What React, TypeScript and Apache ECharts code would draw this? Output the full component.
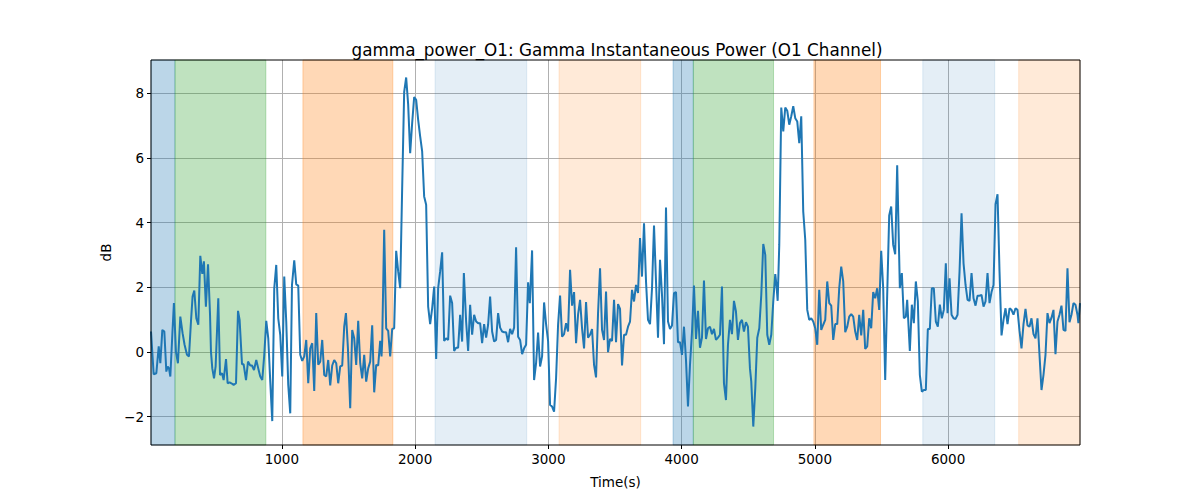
import React, { useEffect, useRef } from "react";
import * as echarts from "echarts";

const titleText = "gamma_power_O1: Gamma Instantaneous Power (O1 Channel)";
const xName = "Time(s)";
const yName = "dB";
const xTicks = [1000, 2000, 3000, 4000, 5000, 6000];
const yTicks = [-2, 0, 2, 4, 6, 8];
const xRange = [18, 6990];
const yRange = [-2.88, 9.03];

const times = [
  18, 38, 58, 76, 88, 103, 118, 133, 143, 153, 163, 178, 190, 205, 220, 238, 255, 270, 288, 303,
  318, 330, 343, 358, 373, 388, 403, 415, 430, 446, 461, 468, 478, 491, 503, 523, 536, 551, 563, 581,
  593, 608, 621, 638, 656, 671, 683, 701, 713, 731, 746, 763, 776, 791, 808, 823, 838, 853, 868, 883,
  898, 913, 928, 943, 958, 973, 988, 1003, 1018, 1033, 1048, 1063, 1076, 1093, 1108, 1123, 1138, 1153, 1168, 1183,
  1198, 1213, 1228, 1243, 1258, 1273, 1288, 1303, 1318, 1333, 1348, 1363, 1378, 1393, 1408, 1423, 1438, 1453, 1468, 1481,
  1496, 1513, 1528, 1543, 1558, 1573, 1588, 1603, 1618, 1633, 1648, 1663, 1678, 1693, 1708, 1723, 1738, 1748, 1753, 1768,
  1783, 1798, 1813, 1828, 1843, 1858, 1873, 1888, 1903, 1918, 1933, 1948, 1963, 1978, 1993, 2008, 2023, 2038, 2053, 2068,
  2083, 2098, 2113, 2128, 2143, 2158, 2173, 2188, 2203, 2218, 2233, 2248, 2263, 2278, 2293, 2308, 2323, 2338, 2353, 2366,
  2383, 2398, 2413, 2428, 2443, 2458, 2473, 2488, 2503, 2518, 2533, 2548, 2563, 2578, 2593, 2608, 2623, 2638, 2653, 2668,
  2683, 2698, 2713, 2728, 2743, 2758, 2773, 2788, 2803, 2818, 2833, 2848, 2861, 2878, 2893, 2908, 2923, 2938, 2953, 2968,
  2983, 2998, 3013, 3028, 3043, 3058, 3073, 3088, 3103, 3118, 3133, 3148, 3163, 3178, 3193, 3208, 3223, 3238, 3253, 3268,
  3283, 3298, 3313, 3328, 3343, 3358, 3373, 3388, 3403, 3418, 3433, 3448, 3463, 3478, 3493, 3508, 3523, 3538, 3553, 3568,
  3583, 3598, 3613, 3628, 3643, 3658, 3673, 3688, 3703, 3718, 3733, 3748, 3763, 3778, 3793, 3808, 3823, 3838, 3853, 3868,
  3883, 3898, 3913, 3928, 3943, 3958, 3973, 3988, 4003, 4018, 4033, 4048, 4063, 4078, 4093, 4108, 4123, 4138, 4153, 4168,
  4183, 4198, 4213, 4228, 4243, 4258, 4273, 4288, 4303, 4318, 4333, 4348, 4363, 4378, 4393, 4408, 4423, 4438, 4453, 4468,
  4483, 4498, 4513, 4523, 4538, 4553, 4568, 4583, 4598, 4613, 4628, 4643, 4658, 4673, 4688, 4703, 4713, 4721, 4733, 4748,
  4763, 4778, 4793, 4808, 4823, 4838, 4853, 4868, 4883, 4898, 4913, 4928, 4943, 4958, 4973, 4988, 5003, 5018, 5033, 5048,
  5063, 5078, 5093, 5108, 5123, 5138, 5153, 5168, 5183, 5198, 5213, 5228, 5243, 5258, 5273, 5288, 5303, 5318, 5333, 5348,
  5363, 5378, 5393, 5408, 5423, 5438, 5453, 5468, 5483, 5498, 5513, 5528, 5543, 5558, 5573, 5588, 5603, 5618, 5638, 5653,
  5668, 5683, 5693, 5713, 5728, 5743, 5758, 5773, 5788, 5803, 5818, 5833, 5848, 5863, 5878, 5893, 5908, 5923, 5938, 5953,
  5968, 5983, 5996, 6011, 6026, 6041, 6056, 6071, 6086, 6101, 6116, 6131, 6146, 6161, 6176, 6191, 6206, 6221, 6236, 6251,
  6266, 6281, 6296, 6311, 6326, 6341, 6356, 6371, 6386, 6401, 6416, 6431, 6446, 6461, 6476, 6491, 6506, 6521, 6536, 6551,
  6566, 6581, 6596, 6611, 6626, 6641, 6656, 6671, 6686, 6701, 6716, 6731, 6746, 6761, 6776, 6791, 6806, 6821, 6836, 6851,
  6866, 6881, 6896, 6911, 6926, 6941, 6956, 6971, 6978, 6990,
];

const values = [
  0.63, -0.69, -0.66, 0.17, -0.35, 0.68, 0.63, -0.61, -0.45, -0.51, -0.76, 0.53, 1.51, 0.01, -0.35, 1.09, 0.58, 0.22, -0.09, -0.14,
  0.94, 1.71, 1.9, 1.04, 0.84, 2.97, 2.41, 2.8, 1.4, 2.71, 1.15, 0.01, -0.51, -0.82, -0.45, 1.66, -0.71, -0.66, -0.87, -0.22,
  -0.97, -0.94, -0.97, -1.02, -0.97, 1.27, 0.99, -0.38, -0.38, -0.87, -0.3, -0.42, -0.42, -0.56, -0.25, -0.51, -0.76, -0.87, -0.09, 0.96,
  0.42, -0.92, -2.14, 1.97, 2.69, 1.04, 0.53, -0.76, 2.33, 0.94, -1.02, -1.9, 2.07, 2.83, 2.09, 2.05, -0.09, -0.28, -0.14, 0.37,
  -0.97, 0.11, 0.27, -1.21, 1.2, -0.4, -0.3, 0.37, -0.71, -0.76, -0.25, -1.04, -0.42, -0.25, -0.35, -0.97, -0.45, -0.42, 0.78, 1.2,
  0.11, -1.74, 0.68, 0.42, -0.4, 0.96, -0.35, -0.82, -0.09, -0.92, -0.51, -0.3, 0.82, -1.25, -0.4, -0.42, 0.34, -0.14, 0.32, 3.78,
  0.73, 0.65, -0.14, 0.71, 0.73, 3.13, 2.49, 1.97, 5.07, 8.04, 8.49, 7.65, 6.15, 7.08, 7.88, 7.8, 7.18, 6.67, 6.2, 4.81,
  4.55, 1.4, 0.86, 1.35, 2.02, -0.22, 1.97, 2.49, 3.08, 0.34, 0.42, 0.37, 1.74, 1.51, 0.03, 0.13, 0.13, 1.15, 0.32, 2.44,
  0.94, 0.03, 1.46, 0.53, 1.15, 0.94, 0.89, 0.89, 0.27, 0.86, 0.44, 0.84, 1.71, 0.63, 0.32, 0.37, 1.2, 0.75, 0.63, 0.61,
  0.61, 0.3, 0.71, 0.55, 0.75, 3.24, 0.47, 0.37, -0.07, 0.11, 0.22, 2.15, 1.51, 3.14, -0.87, -0.35, 0.6, -0.45, -0.14, 1.53,
  0.86, 0.34, -1.64, -1.69, -1.85, -0.82, 0.84, 1.74, 0.47, 0.55, 0.89, 0.63, 2.54, 1.43, 1.85, 0.27, 1.15, 1.61, 0.73, 0.11,
  1.54, 0.44, 0.53, 0.71, -0.4, -0.79, 1.2, 2.59, 0.68, 0.37, 1.87, -0.01, 0.4, 0.34, 1.61, 0.3, 1.48, 1.33, -0.42, 0.53,
  0.53, 0.78, 0.94, 1.92, 1.56, 2.07, 1.82, 3.52, 2.33, 3.98, 2.18, 0.99, 0.86, 1.97, 3.91, 2.18, 0.44, 2.85, 1.76, 0.24,
  4.47, 0.94, 0.71, 0.82, 1.82, 1.85, 0.3, 0.3, -0.09, 0.78, -0.25, -1.69, -0.4, 0.61, 2.05, 0.4, 1.27, 0.13, 0.44, 2.21,
  0.4, 0.73, 0.78, 0.55, 0.71, 0.37, 0.44, 0.53, 2.02, -0.97, -1.49, 0.22, 0.99, 0.55, 1.58, 1.25, 0.37, 0.89, 0.99, 0.63,
  0.92, 0.78, -0.51, -0.92, -2.31, -1.12, 0.44, 0.73, 1.76, 3.34, 3.0, 0.53, 0.22, 0.53, 1.56, 2.41, 2.02, 1.58, 3.31, 7.56,
  6.82, 7.56, 7.46, 7.03, 7.29, 7.6, 7.23, 7.13, 6.46, 7.29, 4.34, 3.47, 1.3, 0.99, 1.04, 0.94, 0.73, 0.22, 1.92, 0.68,
  0.84, 0.99, 2.18, 1.51, 1.43, 0.37, 0.86, 0.86, 1.97, 2.64, 2.18, 0.61, 0.78, 1.09, 1.17, 1.09, 0.63, 0.37, 1.15, 0.51,
  1.3, 0.09, 0.17, 1.04, 0.73, 1.85, 1.66, 1.97, 1.3, 3.13, 1.97, -0.87, 1.76, 4.22, 4.5, 3.31, 3.02, 5.77, 1.97, 2.44,
  1.04, 1.09, 1.61, 0.03, 1.46, 0.89, 2.18, 1.56, -0.71, -1.23, -1.18, -1.18, 0.71, 0.71, 1.97, 1.97, 0.94, 0.78, 1.46, 1.04,
  1.3, 2.74, 1.2, 2.28, 1.15, 1.04, 1.02, 1.15, 2.49, 4.29, 2.74, 2.07, 1.61, 1.58, 2.44, 1.66, 1.43, 1.74, 1.74, 1.76,
  1.4, 1.56, 2.44, 1.51, 1.85, 2.07, 4.57, 4.88, 2.49, 0.51, 0.99, 1.35, 0.86, 1.35, 1.3, 1.15, 1.35, 1.3, 0.65, 0.11,
  0.86, 1.33, 0.82, 0.78, 1.04, 0.55, 0.42, 1.04, -0.09, -1.18, -0.71, -0.09, 1.2, 0.89, 1.06, 1.3, -0.07, 0.94, 1.15, 1.43,
  0.68, 0.65, 2.59, 0.92, 1.15, 1.51, 1.46, 1.15, 0.89, 1.51,
];

// shaded intervals: start, end, colour
const bandStarts = [18, 198, 1158, 2150, 3080, 3936, 4088, 4993, 5810, 6530];
const bandEnds = [198, 880, 1833, 2838, 3693, 4088, 4690, 5493, 6350, 6990];
const bandColors = [
  "rgba(31,119,180,0.3)",
  "rgba(44,160,44,0.3)",
  "rgba(255,127,14,0.3)",
  "rgba(31,119,180,0.12)",
  "rgba(255,127,14,0.16)",
  "rgba(31,119,180,0.3)",
  "rgba(44,160,44,0.3)",
  "rgba(255,127,14,0.3)",
  "rgba(31,119,180,0.12)",
  "rgba(255,127,14,0.16)",
];

const FONT = "DejaVu Sans";
const GRID = { left: 151, right: 120, top: 60, bottom: 55 };

export default function App() {
  const ref = useRef<HTMLDivElement>(null);
  useEffect(() => {
    if (!ref.current) return;
    const chart = echarts.init(ref.current, null, { renderer: "svg" });
    const lineData = times.map((t, i) => [t, values[i]]);
    const areas = bandStarts.map((s, i) => [
      { xAxis: s, itemStyle: { color: bandColors[i], borderColor: bandColors[i], borderWidth: 1 } },
      { xAxis: bandEnds[i] },
    ]);
    const fmt = (v: number) => String(v).replace("-", "\u2212");
    chart.setOption({
      animation: false,
      backgroundColor: "#ffffff",
      title: {
        text: titleText,
        left: 612,
        top: 36,
        textAlign: "center",
        textStyle: { fontFamily: FONT, fontSize: 16.8, fontWeight: "normal", color: "#000" },
      },
      grid: { ...GRID, show: false },
      graphic: [
        {
          type: "rect",
          z: 100,
          silent: true,
          shape: { x: GRID.left, y: GRID.top, width: 1200 - GRID.left - GRID.right, height: 500 - GRID.top - GRID.bottom },
          style: { fill: "none", stroke: "#000", lineWidth: 1 },
        },
      ],
      xAxis: {
        type: "value",
        min: xRange[0],
        max: xRange[1],
        name: xName,
        nameLocation: "middle",
        nameGap: 30,
        nameTextStyle: { fontFamily: FONT, fontSize: 13.5, color: "#000" },
        axisLine: { show: false, onZero: false },
        axisTick: { show: true, length: 4, customValues: xTicks, lineStyle: { color: "#000" } },
        axisLabel: {
          customValues: xTicks,
          formatter: fmt,
          fontFamily: FONT,
          fontSize: 13.5,
          color: "#000",
          margin: 7,
        },
        splitLine: { show: true, lineStyle: { color: "#b0b0b0", width: 1 } },
      },
      yAxis: {
        type: "value",
        min: yRange[0],
        max: yRange[1],
        name: yName,
        nameLocation: "middle",
        nameGap: 38,
        nameRotate: 90,
        nameTextStyle: { fontFamily: FONT, fontSize: 13.5, color: "#000" },
        axisLine: { show: false, onZero: false },
        axisTick: { show: true, length: 4, customValues: yTicks, lineStyle: { color: "#000" } },
        axisLabel: {
          customValues: yTicks,
          formatter: fmt,
          fontFamily: FONT,
          fontSize: 13.5,
          color: "#000",
          margin: 7,
        },
        splitLine: { show: true, lineStyle: { color: "#b0b0b0", width: 1 } },
      },
      series: [
        {
          type: "line",
          data: lineData,
          showSymbol: false,
          symbol: "none",
          lineStyle: { color: "#1f77b4", width: 2 },
          z: 3,
          markArea: {
            silent: true,
            data: areas,
            z: 1,
          },
        },
      ],
    });
    return () => chart.dispose();
  }, []);
  return (
    <div
      ref={ref}
      style={{ position: "fixed", left: 0, top: 0, width: 1200, height: 500, background: "#fff" }}
    />
  );
}
